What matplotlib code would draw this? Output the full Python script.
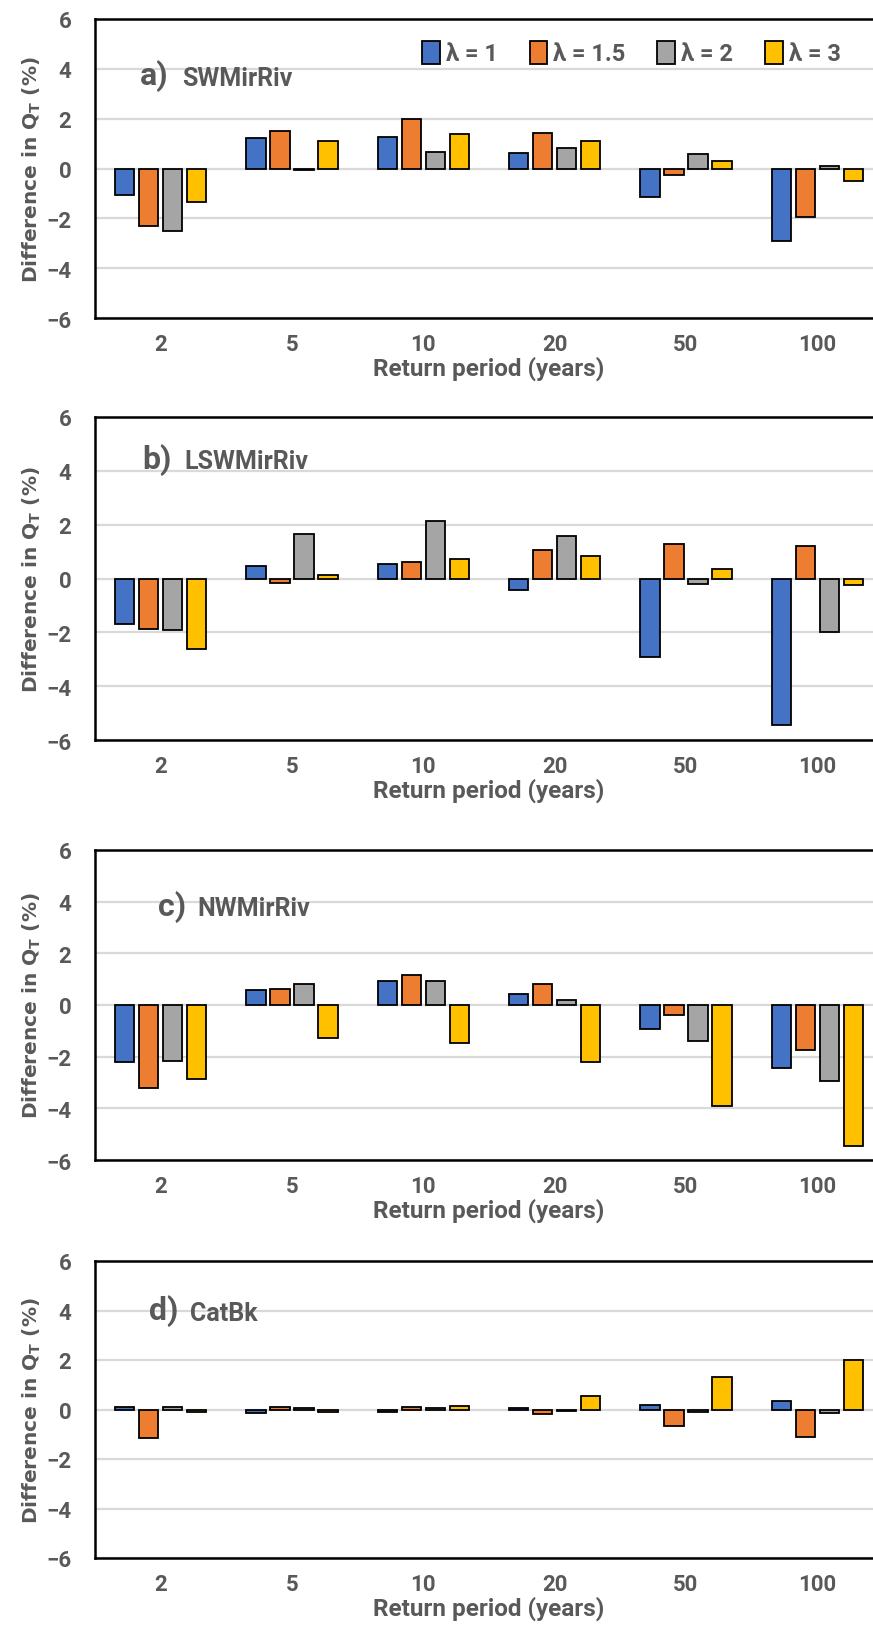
import numpy as np
import matplotlib.pyplot as plt

# --- donnees --------------------------------------------------------------
periodes = ['2', '5', '10', '20', '50', '100']
lambdas = ['λ = 1', 'λ = 1.5', 'λ = 2', 'λ = 3']
couleurs = ['#4472C4', '#ED7D31', '#A5A5A5', '#FFC000']

# a) SWMirRiv : une liste par lambda (1, 1.5, 2, 3)
swm_l1 = [-1.05, 1.22, 1.28, 0.62, -1.15, -2.9]
swm_l15 = [-2.3, 1.52, 1.98, 1.42, -0.25, -1.95]
swm_l2 = [-2.5, -0.05, 0.67, 0.82, 0.57, 0.1]
swm_l3 = [-1.35, 1.12, 1.38, 1.12, 0.3, -0.5]

# b) LSWMirRiv
lsw_l1 = [-1.7, 0.45, 0.55, -0.44, -2.9, -5.45]
lsw_l15 = [-1.86, -0.15, 0.6, 1.06, 1.3, 1.2]
lsw_l2 = [-1.91, 1.66, 2.12, 1.57, -0.2, -2.0]
lsw_l3 = [-2.62, 0.12, 0.74, 0.82, 0.36, -0.26]

# c) NWMirRiv
nwm_l1 = [-2.22, 0.57, 0.92, 0.43, -0.92, -2.42]
nwm_l15 = [-3.22, 0.61, 1.16, 0.82, -0.4, -1.75]
nwm_l2 = [-2.17, 0.82, 0.92, 0.2, -1.41, -2.95]
nwm_l3 = [-2.86, -1.26, -1.46, -2.22, -3.9, -5.46]

# d) CatBk
cat_l1 = [0.1, -0.15, -0.1, 0.05, 0.2, 0.35]
cat_l15 = [-1.17, 0.1, 0.1, -0.2, -0.68, -1.1]
cat_l2 = [0.1, 0.05, 0.05, -0.05, -0.1, -0.15]
cat_l3 = [-0.1, -0.1, 0.15, 0.56, 1.32, 2.02]

panneaux = [('a)', 'SWMirRiv', [swm_l1, swm_l15, swm_l2, swm_l3]),
            ('b)', 'LSWMirRiv', [lsw_l1, lsw_l15, lsw_l2, lsw_l3]),
            ('c)', 'NWMirRiv', [nwm_l1, nwm_l15, nwm_l2, nwm_l3]),
            ('d)', 'CatBk', [cat_l1, cat_l15, cat_l2, cat_l3])]

# --- mise en page (pixels de l'image 873x1631) -----------------------------
W, H = 873, 1631
boites = [(20, 319), (418, 741), (851, 1161), (1262, 1559)]
x_gauche, x_droite = 95, 883
lab_y = [3.75, 4.45, 3.85, 4.0]
lab_x = [-0.16, -0.14, -0.02, -0.09]
nom_x = [0.16, 0.18, 0.28, 0.22]

gris = '#595959'
police = ['Roboto', 'DejaVu Sans']

fig = plt.figure(figsize=(W/100, H/100), dpi=100)
x = np.arange(len(periodes))
pas, largeur = 0.183, 0.148

for k, (lettre, nom, series) in enumerate(panneaux):
    haut, bas = boites[k]
    ax = fig.add_axes([x_gauche/W, 1 - bas/H, (x_droite - x_gauche)/W,
                       (bas - haut)/H])
    ax.set_axisbelow(True)
    ax.grid(axis='y', color='#D9D9D9', lw=1.6)
    barres = []
    for i, vals in enumerate(series):
        b = ax.bar(x + (i - 1.5)*pas, vals, width=largeur, color=couleurs[i],
                   edgecolor='black', lw=1.3, label=lambdas[i])
        barres.append(b)
    ax.set_xlim(-0.5, len(periodes) - 0.5)
    ax.set_ylim(-6, 6)
    ax.set_yticks(np.arange(-6, 7, 2))
    ax.set_xticks(x)
    ax.set_xticklabels(periodes)
    ax.tick_params(length=0, pad=11, labelsize=16, labelcolor=gris)
    ax.tick_params(axis='y', pad=17)
    for t in ax.get_xticklabels() + ax.get_yticklabels():
        t.set_family(police)
        t.set_fontweight('bold')
    for s in ax.spines.values():
        s.set_linewidth(1.8)
        s.set_color('black')
    ax.set_xlabel('Return period (years)', fontsize=17.5, color=gris,
                  fontweight='bold', family=police, labelpad=0)
    ax.set_ylabel(r'Difference in Q$_\mathregular{T}$ (%)', fontsize=14.5,
                  color=gris, fontweight='bold', labelpad=2)
    ax.text(lab_x[k], lab_y[k], lettre, fontsize=23, color=gris,
            fontweight='bold', family=police, va='center')
    ax.text(nom_x[k], lab_y[k] - 0.1, nom, fontsize=18, color=gris,
            fontweight='bold', family=police, va='center')
    if k == 0:
        leg = ax.legend(handles=barres, loc='upper right', ncol=4,
                        bbox_to_anchor=(0.958, 0.958), frameon=False,
                        handlelength=0.75, handleheight=1.1, handletextpad=0.25,
                        columnspacing=1.35, borderaxespad=0,
                        prop={'family': police, 'weight': 'bold', 'size': 17})
        for t in leg.get_texts():
            t.set_color(gris)

fig.savefig('out.png', dpi=100)
